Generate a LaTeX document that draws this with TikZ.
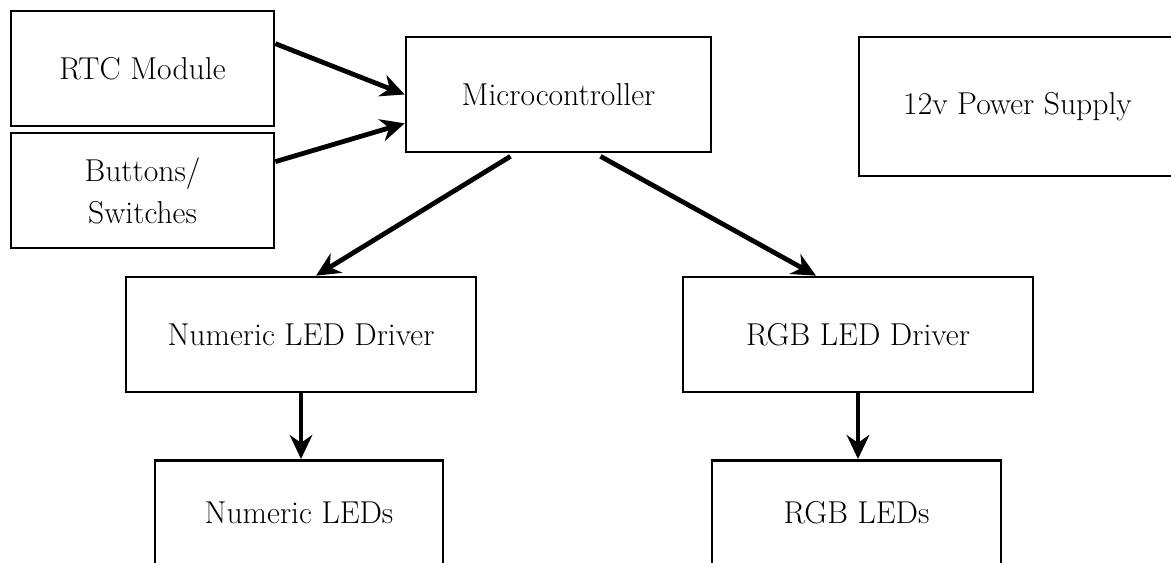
\documentclass[tikz,border=0pt]{standalone}
\usetikzlibrary{arrows.meta, calc}

\begin{document}

\begin{tikzpicture}[x = 0.025cm, y = -0.025cm,
	> = {Stealth[length = 17pt, width = 16pt, inset = 5.5pt]},
	block/.style = {draw, line width = 1.9pt, rectangle, align = center,
		font = \fontsize{22.5}{30}\selectfont, inner sep = 0pt},
	link/.style = {->, line width = 3.4pt}]

	% Page frame

	\useasboundingbox (0, 0) rectangle (1171, 563);
	\clip (0, 0) rectangle (1171, 563);

	% Top row

	\node [block, minimum width = 263 * 0.025cm, minimum height = 115 * 0.025cm] (rtc) at (142.5, 68.5) {RTC Module};
	\node [block, minimum width = 263 * 0.025cm, minimum height = 115 * 0.025cm] (buttons) at (142.5, 190.5) {Buttons/\\Switches};
	\node [block, minimum width = 305 * 0.025cm, minimum height = 115 * 0.025cm] (micro) at (558.5, 94.5) {Microcontroller};
	\node [block, minimum width = 317 * 0.025cm, minimum height = 139 * 0.025cm] (power) at (1017.5, 106.5) {12v Power Supply};

	% Drivers

	\node [block, minimum width = 350 * 0.025cm, minimum height = 115 * 0.025cm] (numdrv) at (301, 334.5) {Numeric LED Driver};
	\node [block, minimum width = 350 * 0.025cm, minimum height = 115 * 0.025cm] (rgbdrv) at (858, 334.5) {RGB LED Driver};

	% LEDs

	\node [block, minimum width = 288 * 0.025cm, minimum height = 104 * 0.025cm, anchor = north] (numleds) at (299, 459) {Numeric LEDs};
	\node [block, minimum width = 289 * 0.025cm, minimum height = 104 * 0.025cm, anchor = north] (rgbleds) at (856.5, 459) {RGB LEDs};

	% Connectors

	\draw [link] ($(rtc.north east) + (0, 34)$) -- (micro.west);
	\draw [link] ($(buttons.north east) + (0, 30)$) -- ($(micro.south west) + (0, -30)$);
	\draw [link] ($(micro.south) + (-48, 3)$) -- ($(numdrv.north) + (15, 0)$);
	\draw [link] ($(micro.south) + (42, 3)$) -- ($(rgbdrv.north) + (-42, 0)$);
	\draw [link] (numdrv.south) -- (numdrv.south |- numleds.north);
	\draw [link] (rgbdrv.south) -- (rgbdrv.south |- rgbleds.north);

\end{tikzpicture}

\end{document}
